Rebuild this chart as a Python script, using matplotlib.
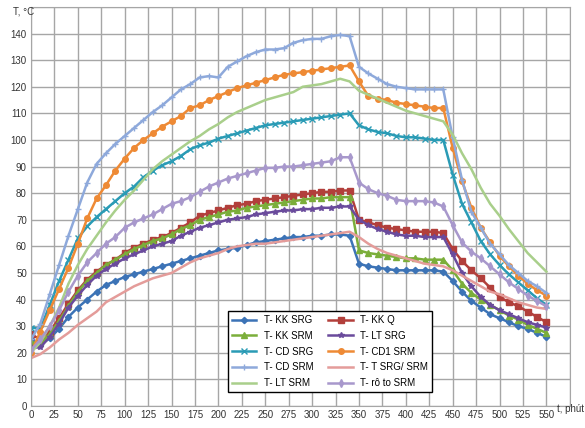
import numpy as np
import matplotlib
matplotlib.use("Agg")
import matplotlib.pyplot as plt

plt.rcParams['font.family'] = ['Liberation Sans', 'DejaVu Sans']

# thời gian, phút
t = list(range(0, 551, 10))

kk_srg = [25, 23, 25.5, 29, 33.5, 37, 40, 43, 45.5, 47, 48.5, 49.5, 50.5, 51.5, 52.5, 53.5, 54.5, 55.5, 56.5, 57.5,
          58.5, 59, 59.5, 60.5, 61.5, 62, 62.5, 63, 63.5, 63.5, 64, 64, 64.5, 64.5, 64, 53.5, 52.5, 52, 51.5, 51,
          51, 51, 51, 51, 50.5, 47, 43, 39.5, 37, 34.5, 33, 31.5, 30, 29, 27.5, 26]
kk_q = [27, 25, 28, 33, 38.5, 43.5, 47.5, 50.5, 53, 55, 57.5, 59.5, 61, 62.5, 63.5, 65, 67, 69, 71.5, 72.5,
        73.5, 74.5, 75.5, 76, 77, 77.5, 78, 78.5, 79, 79.5, 80, 80.5, 80.5, 81, 81, 70, 69, 68, 67, 66.5,
        66, 65.5, 65.5, 65.5, 65, 59, 54.5, 51, 48, 44.5, 41, 39, 37.5, 35.5, 33.5, 31.5]
kk_srm = [24, 23.5, 27, 32, 37.5, 43, 47, 50, 53, 55, 57, 59, 60.5, 62, 63, 64.5, 66.5, 68, 70, 71,
          72, 73, 73.5, 74.5, 75, 75.5, 76, 76.5, 77, 77.5, 78, 78, 78.5, 78.5, 78.5, 58.5, 57.5, 57, 56.5, 56,
          55.5, 55.5, 55, 55, 55, 51, 46, 42.5, 40, 38, 36, 34, 32.5, 30.5, 29, 27.5]
lt_srg = [22, 22, 26, 31, 37, 41.5, 45.5, 49, 51.5, 53.5, 55.5, 57, 58.5, 60, 61, 62, 64, 65.5, 67, 68,
          69, 70, 70.5, 71, 72, 72.5, 73, 73.5, 73.5, 74, 74, 74.5, 74.5, 75, 75, 70, 68, 66.5, 65.5, 64.5,
          64, 64, 63.5, 63.5, 63.5, 57, 50, 45, 41, 38, 36, 34.5, 33, 31.5, 30.5, 29.5]
cd_srg = [29.5, 29, 38, 47, 55, 63, 67.5, 71, 74, 77, 80, 82.5, 86, 88.5, 90.5, 92, 94, 96.5, 98, 99,
          100.5, 101.5, 102.5, 103.5, 104.5, 105.5, 106, 106.5, 107, 107.5, 108, 108.5, 109, 109.5, 110, 105.5, 104, 103, 102.5, 101.5,
          101, 101, 100.5, 100, 100, 87, 76, 69, 62, 57, 53, 49.5, 46.5, 43.5, 40.5, 38]
cd1_srm = [20, 28, 36, 44, 52, 61, 70.5, 78, 83, 88.5, 93, 97, 100, 102.5, 105, 107, 109, 112, 113, 115,
           116.5, 118, 119.5, 120.5, 121.5, 122.5, 123.5, 124.5, 125, 125.5, 126, 126.5, 127, 127.5, 128, 122, 116.5, 115.5, 115, 114,
           113.5, 113, 112.5, 112, 112, 97, 84.5, 74.5, 67, 61.5, 56.5, 52.5, 49, 46, 43.5, 41.5]
cd_srm = [25, 31, 42, 53, 64, 74, 84, 91, 95, 98.5, 101.5, 104.5, 107.5, 110.5, 113, 116, 119, 121, 123.5, 124,
          123.5, 127.5, 129.5, 131.5, 133, 134, 134, 134.5, 136.5, 137.5, 138, 138, 139, 139.5, 139, 127.5, 125, 123, 121, 120,
          119.5, 119, 119, 119, 119, 101, 85, 73, 67, 61, 57, 53, 50, 47, 45, 42.5]
t_srg_srm = [18, 19.5, 22, 25, 27.5, 30.5, 33, 35.5, 39, 41, 43, 45, 46.5, 48, 49, 50, 52, 54, 55.5, 56.5,
             57.5, 59, 60, 60.5, 61, 61, 61.5, 62, 62.5, 63, 63.5, 64, 64.5, 65, 65.5, 63.5, 61, 59, 57.5, 56.5,
             55.5, 54.5, 53.5, 53, 52.5, 51, 49, 47, 45, 43, 42, 40.5, 39, 38, 37, 36.5]
lt_srm = [20, 24, 30, 37, 46, 53, 59, 64, 69, 73.5, 77.5, 81, 85, 89, 92, 94.5, 97, 99.5, 101.5, 104,
          106, 108.5, 110.5, 112, 113.5, 115, 116, 117, 118, 120, 120.5, 121, 122, 123, 122, 118.5, 117, 115.5, 114, 112.5,
          111, 110, 109, 108, 107, 102, 95, 89, 82, 76, 71.5, 66.5, 62, 57.5, 54, 50.5]
roto_srm = [21, 25, 30, 36, 43, 49, 54, 57.5, 61, 63.5, 67, 69, 70.5, 72, 74, 76, 77, 78.5, 80.5, 82.5,
            84, 85.5, 86.5, 87.5, 88.5, 89.5, 89.5, 90, 90, 90.5, 91, 91.5, 92, 93.5, 93.5, 84, 81.5, 80, 79, 77.5,
            77, 77, 77, 76.5, 75, 68, 61.5, 58, 55.5, 52.5, 49.5, 46.5, 44, 41.5, 39.5, 37.5]

series = [
    ("T- KK SRG", kk_srg, '#3C73B6', 'D', 3.2),
    ("T- KK Q", kk_q, '#B23F3B', 's', 4),
    ("T- KK SRM", kk_srm, '#7BAE3A', '^', 4),
    ("T- LT SRG", lt_srg, '#6A4B9C', '*', 4),
    ("T- CD SRG", cd_srg, '#2A9BB5', 'x', 4),
    ("T- CD1 SRM", cd1_srm, '#EE8A35', 'o', 4),
    ("T- CD SRM", cd_srm, '#8EA9DB', '+', 4.5),
    ("T- T SRG/ SRM", t_srg_srm, '#E49C9A', None, 0),
    ("T- LT SRM", lt_srm, '#A9CF8B', None, 0),
    ("T- rô to SRM", roto_srm, '#A898CC', 'd', 4),
]

fig = plt.figure(figsize=(5.85, 4.28), dpi=100)
ax = fig.add_axes([0.053, 0.0514, 0.921, 0.9324])

lines = {}
for name, y, c, m, ms in series:
    ln, = ax.plot(t, y, color=c, lw=1.8, marker=m, ms=ms, mew=1, label=name)
    lines[name] = ln

ax.set_xlim(0, 575)
ax.set_ylim(0, 150)
ax.set_xticks(range(0, 576, 25))
ax.set_xticklabels([str(v) for v in range(0, 551, 25)] + [""])
ax.set_yticks(range(0, 151, 10))
ax.set_yticklabels([str(v) for v in range(0, 141, 10)] + [""])
ax.tick_params(labelsize=7, length=0, pad=3, colors='#333333')
ax.grid(True, color='#a6a6a6', lw=1)
ax.set_axisbelow(True)
for s in ax.spines.values():
    s.set_color('#a6a6a6')

fig.text(0.022, 0.966, "T, °C", fontsize=7, color='#333333')
fig.text(0.952, 0.038, "t, phút", fontsize=7, color='#333333')

order = ["T- KK SRG", "T- KK SRM", "T- CD SRG", "T- CD SRM", "T- LT SRM",
         "T- KK Q", "T- LT SRG", "T- CD1 SRM", "T- T SRG/ SRM", "T- rô to SRM"]
leg = ax.legend([lines[n] for n in order], order, ncol=2, loc='upper left',
                bbox_to_anchor=(0.366, 0.238), borderaxespad=0, fontsize=7,
                frameon=True, fancybox=False, edgecolor='black', framealpha=1,
                handlelength=2.5, columnspacing=1.5, labelspacing=0.6)
leg.get_frame().set_linewidth(1)

plt.savefig("out.png", dpi=100)
